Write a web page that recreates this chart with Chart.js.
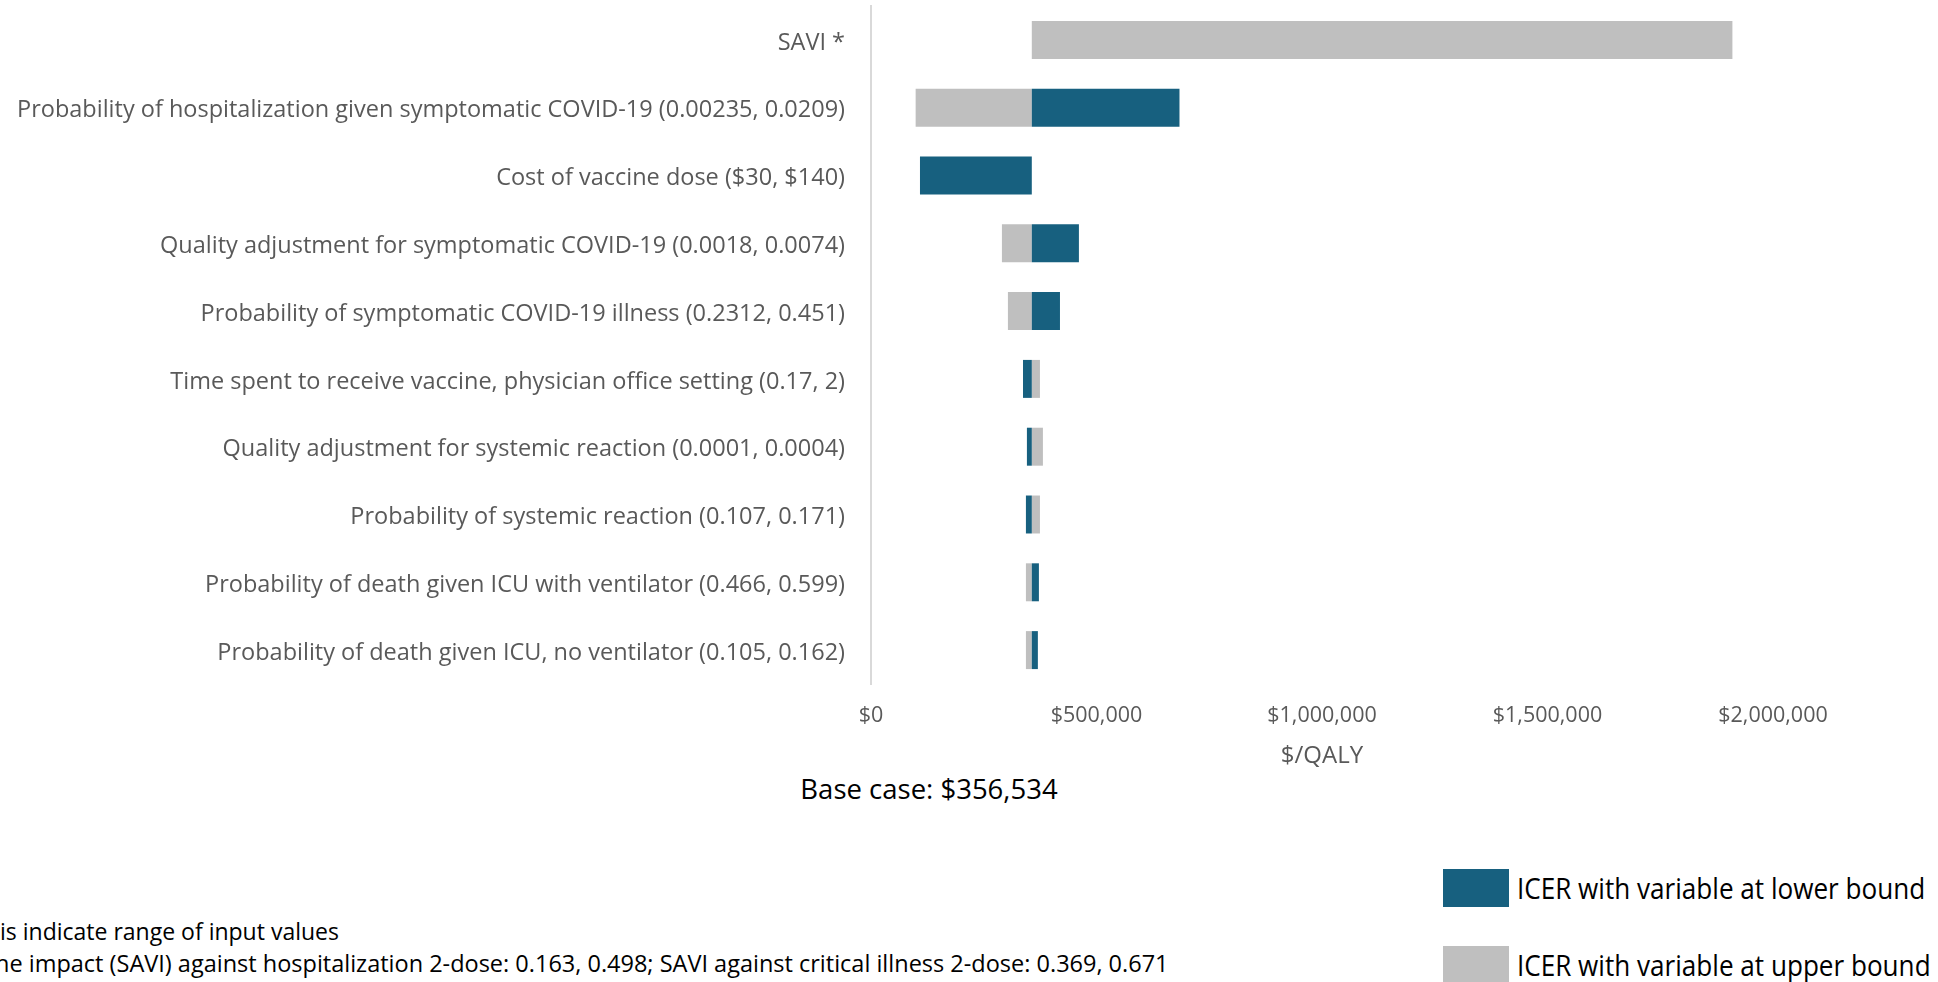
<!DOCTYPE html>
<html>
<head>
<meta charset="utf-8">
<title>Tornado diagram</title>
<script src="https://cdn.jsdelivr.net/npm/chart.js@4.4.1/dist/chart.umd.min.js"></script>
<style>
    html, body {
        margin: 0;
        padding: 0;
        width: 1938px;
        height: 982px;
        overflow: hidden;
        background: #fff;
        font-family: "Open Sans", sans-serif;
    }
    #grafica {
        position: absolute;
        left: 0;
        top: 0;
    }
    .texto {
        position: absolute;
        white-space: nowrap;
        line-height: 40px;
        height: 40px;
    }
    .angosto {
        transform-origin: left center;
    }
    .caja {
        position: absolute;
        width: 66px;
        height: 38px;
    }
</style>
</head>
<body>
<canvas id="grafica" width="1938" height="740"></canvas>

<div class="texto" style="left:1222px; width:200px; text-align:center; top:734px; font-size:24px; color:#595959;">$/QALY</div>
<div class="texto" style="left:729px; width:400px; text-align:center; top:769px; font-size:27.5px; color:#000;">Base case: $356,534</div>

<div class="texto" style="left:0px; top:911px; font-size:23px; color:#000;">is indicate range of input values</div>
<div class="texto" style="left:-5px; top:943px; font-size:23.5px; color:#000;">he impact (SAVI) against hospitalization 2-dose: 0.163, 0.498; SAVI against critical illness 2-dose: 0.369, 0.671</div>

<div class="caja" style="left:1443px; top:869px; background:#17607f;"></div>
<div class="texto angosto" style="left:1517px; top:868px; font-size:29px; color:#000; transform:scaleX(0.9);">ICER with variable at lower bound</div>
<div class="caja" style="left:1443px; top:946px; background:#bfbfbf;"></div>
<div class="texto angosto" style="left:1517px; top:945px; font-size:29px; color:#000; transform:scaleX(0.9);">ICER with variable at upper bound</div>

<script>
// ==============================
// DATOS
// ==============================
const categorias = [
    "SAVI *",
    "Probability of hospitalization given symptomatic COVID-19 (0.00235, 0.0209)",
    "Cost of vaccine dose ($30, $140)",
    "Quality adjustment for symptomatic COVID-19 (0.0018, 0.0074)",
    "Probability of symptomatic COVID-19 illness (0.2312, 0.451)",
    "Time spent to receive vaccine, physician office setting (0.17, 2)",
    "Quality adjustment for systemic reaction (0.0001, 0.0004)",
    "Probability of systemic reaction (0.107, 0.171)",
    "Probability of death given ICU with ventilator (0.466, 0.599)",
    "Probability of death given ICU, no ventilator (0.105, 0.162)"
];

const casoBase = 356534;

// ICER con la variable en el límite inferior
const icerInferior = [356534, 684000, 108600, 461000, 419000, 337000, 345700, 343500, 372300, 370000];

// ICER con la variable en el límite superior
const icerSuperior = [1910000, 99000, 356534, 290300, 303600, 374600, 381200, 374600, 343500, 343500];

const marcasX = [0, 500000, 1000000, 1500000, 2000000];


// ==============================
// GRÁFICA TORNADO
// ==============================
new Chart(document.getElementById("grafica"), {
    type: "bar",
    data: {
        labels: categorias,
        datasets: [
            {
                label: "ICER with variable at lower bound",
                data: icerInferior.map(v => [casoBase, v]),
                backgroundColor: "#17607f",
                grouped: false,
                categoryPercentage: 1,
                barPercentage: 0.56
            },
            {
                label: "ICER with variable at upper bound",
                data: icerSuperior.map(v => [casoBase, v]),
                backgroundColor: "#bfbfbf",
                grouped: false,
                categoryPercentage: 1,
                barPercentage: 0.56
            }
        ]
    },
    options: {
        indexAxis: "y",
        responsive: false,
        animation: false,
        layout: {
            padding: { top: 6, right: 165, left: 0, bottom: 0 }
        },
        plugins: {
            legend: { display: false },
            tooltip: { enabled: false }
        },
        scales: {
            x: {
                min: 0,
                max: 2000000,
                grid: { display: false, drawTicks: false },
                border: { display: false },
                afterBuildTicks: escala => {
                    escala.ticks = marcasX.map(v => ({ value: v }));
                },
                afterFit: escala => {
                    escala.height = 56;
                },
                ticks: {
                    padding: 19,
                    color: "#595959",
                    font: { family: "Open Sans", size: 21.5 },
                    callback: v => "$" + Number(v).toLocaleString("en-US")
                }
            },
            y: {
                grid: { display: false, drawTicks: false },
                border: { display: true, color: "#d9d9d9", width: 2 },
                afterFit: escala => {
                    escala.width = 871;
                    escala.paddingTop = 0;
                    escala.paddingBottom = 0;
                },
                ticks: {
                    padding: 26,
                    labelOffset: 3,
                    color: "#595959",
                    font: { family: "Open Sans", size: 23.5 }
                }
            }
        }
    }
});
</script>
</body>
</html>
